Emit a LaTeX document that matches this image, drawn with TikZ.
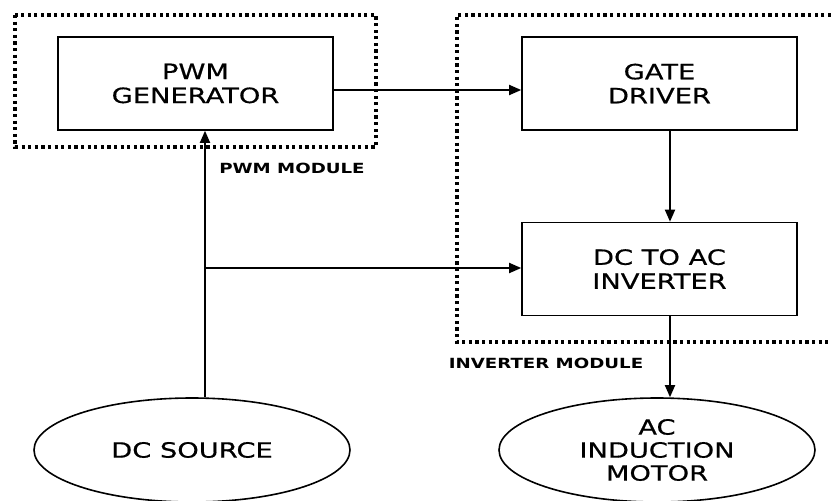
\documentclass[tikz,border=0pt]{standalone}
\usepackage{fontspec}
\setmainfont{DejaVu Sans}[FakeStretch=1.3]
\newfontfamily\boxfont{DejaVu Sans}[FakeStretch=1.3,FakeBold=0.6]
\usetikzlibrary{arrows.meta,shapes.geometric}
\newcommand{\bw}{275pt}
\newcommand{\bh}{93pt}

\begin{document}
\begin{tikzpicture}[x=1pt,y=-1pt,
    rect/.style={draw, rectangle, line width=1.6pt, minimum width=\bw, minimum height=\bh, align=center, inner sep=0pt, font=\boxfont\fontsize{21}{24}\selectfont},
    oval/.style={draw, ellipse, line width=1.6pt, minimum width=316pt, minimum height=104pt, align=center, inner sep=0pt, font=\boxfont\fontsize{21}{23}\selectfont},
    module/.style={line width=3.5pt, dash pattern=on 3.2pt off 3.4pt},
    tag/.style={font=\bfseries\fontsize{14}{16}\selectfont},
    arr/.style={line width=1.8pt, -{Triangle[length=12pt,width=10pt]}}]
    \useasboundingbox (0,0) rectangle (831,501);

    % Module frames
    \draw[module] (15,15) rectangle (376,147);
    \draw[module] (831,15) -- (457,15) -- (457,342) -- (831,342);
    \node[tag] (pwmtag) at (292,168) {PWM MODULE};
    \node[tag] (invtag) at (546,363) {INVERTER MODULE};

    % Blocks
    \node[rect] (pwmgen) at (195.5,83.5) {PWM\\GENERATOR};
    \node[rect] (gate) at (659.5,83.5) {GATE\\DRIVER};
    \node[rect] (inv) at (659.5,269) {DC TO AC\\INVERTER};
    \node[oval] (dcsrc) at (192,450) {DC SOURCE};
    \node[oval] (motor) at (657,450) {AC\\INDUCTION\\MOTOR};

    % Connections
    \coordinate (tap) at (205,268);
    \coordinate (drop) at (670,0);
    \draw[arr] ([yshift=-6.5pt]pwmgen.east) -- ([yshift=-6.5pt]gate.west);
    \draw[arr] (gate.south -| drop) -- (inv.north -| drop);
    \draw[arr] (dcsrc.north -| tap) -- (pwmgen.south -| tap);
    \draw[arr] (tap) -- (inv.west |- tap);
    \draw[arr] (inv.south -| drop) -- (motor.north -| drop);

\end{tikzpicture}
\end{document}
